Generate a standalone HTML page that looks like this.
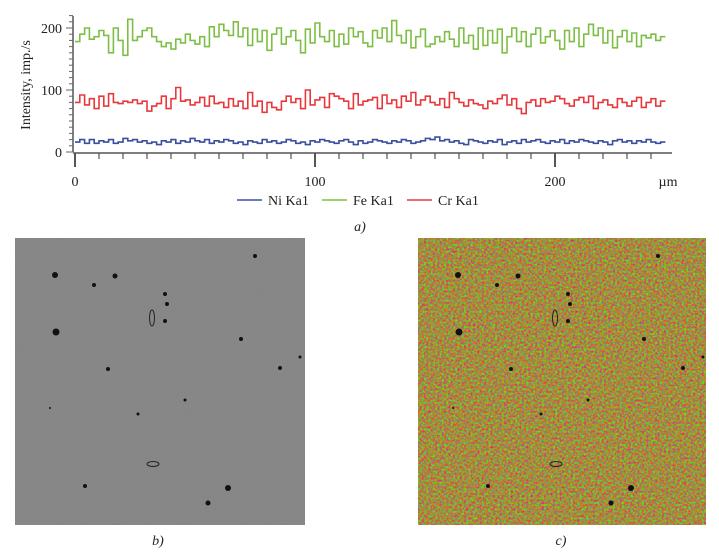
<!DOCTYPE html>
<html><head><meta charset="utf-8"><style>
body{margin:0;background:#fff;}
svg{display:block;font-family:"Liberation Serif",serif;}
</style></head><body>
<svg id="root" width="719" height="553" viewBox="0 0 719 553">
<defs>
<filter id="grayNoise" x="0" y="0" width="100%" height="100%" color-interpolation-filters="sRGB">
<feTurbulence type="fractalNoise" baseFrequency="0.9" numOctaves="2" seed="3" result="n"/>
<feColorMatrix in="n" type="matrix" values="0 0 0 0 0.5  0 0 0 0 0.5  0 0 0 0 0.5  0.9 0 0 0 -0.3" result="g"/>
<feComposite in="g" in2="SourceGraphic" operator="over"/>
</filter>
<filter id="colorNoise" x="0" y="0" width="100%" height="100%" color-interpolation-filters="sRGB">
<feTurbulence type="fractalNoise" baseFrequency="0.45" numOctaves="2" seed="7" result="n"/>
<feColorMatrix in="n" type="matrix" values="0.9 -0.9 0 0 0.64  -0.5 1.1 -0.5 0 0.5  -0.4 -0.4 0.9 0 0.2  0 0 0 0 0.9" result="c"/>
<feComposite in="c" in2="SourceGraphic" operator="over"/>
</filter>
</defs>
<g id="chart"></g>
<text x="30" y="85" font-size="14" transform="rotate(-90 30 85)" text-anchor="middle" fill="#222">Intensity, imp./s</text>
<text x="360" y="231" font-size="14" font-style="italic" text-anchor="middle" fill="#222">a)</text>
<g>
<rect x="15" y="238" width="290" height="287" fill="#888" filter="url(#grayNoise)"/>
<g fill="#111" id="dotsB"></g>
</g>
<text x="158" y="545" font-size="14" font-style="italic" text-anchor="middle" fill="#222">b)</text>
<g>
<rect x="418" y="238" width="288" height="287" fill="#a08a40" filter="url(#colorNoise)"/>
<g fill="#111" id="dotsC"></g>
</g>
<text x="561" y="545" font-size="14" font-style="italic" text-anchor="middle" fill="#222">c)</text>
</svg>
<script>
const positions = [];
const feValues = [178,190,200,182,186,196,188,160,200,180,156,214,180,186,196,200,186,178,170,176,166,182,176,190,180,174,186,170,202,186,206,196,188,210,186,200,172,198,178,196,164,190,200,174,186,196,180,160,198,176,208,186,178,196,170,190,174,200,186,194,176,170,196,184,200,178,212,188,176,196,168,186,198,170,174,186,178,194,182,170,200,176,188,166,200,172,196,176,198,160,186,200,178,194,170,190,200,176,186,196,180,166,196,178,200,170,190,206,188,200,176,196,168,186,196,178,192,170,188,184,190,180,186];
const crValues = [80,92,76,86,70,90,74,94,80,78,82,80,84,78,82,66,74,78,90,70,86,104,82,84,76,80,88,74,90,78,80,72,86,74,82,70,96,74,82,64,80,72,68,82,90,80,86,70,100,76,84,88,72,94,90,86,82,70,94,76,82,84,88,70,92,78,84,72,90,82,96,76,84,90,80,76,86,72,96,86,80,74,84,78,76,70,82,78,86,92,76,86,70,62,80,84,74,86,80,82,90,86,78,74,84,88,80,90,70,80,84,76,72,86,80,74,82,88,72,80,86,74,82];
const niValues = [16,20,14,20,14,18,16,20,14,16,22,18,20,16,18,14,16,12,18,16,20,14,18,16,22,18,16,20,14,18,16,20,18,14,16,12,18,16,14,20,16,18,14,16,20,18,14,16,12,18,16,20,18,16,14,18,20,16,12,18,14,16,20,18,16,14,18,16,20,18,14,16,18,22,20,24,18,20,16,18,14,12,20,18,16,14,18,16,20,12,16,18,14,20,16,18,20,16,14,18,16,20,14,18,16,20,18,16,14,18,16,12,18,20,16,18,14,18,16,20,16,14,16];
const xTicks = [0,100,200];
const xTickLabels = ["0","100","200"];
const yTicks = [0,100,200];
const yTickLabels = ["0","100","200"];
const seriesNames = ["Ni Ka1","Fe Ka1","Cr Ka1"];
for (let i = 0; i < feValues.length; i++) positions.push(i*2);

const X0=75, XS=2.4, Y0=152, YS=0.62;
const xs = v => X0 + v*XS;
const ys = v => Y0 - v*YS;
const NS='http://www.w3.org/2000/svg';
const chart=document.getElementById('chart');
function mk(tag, attrs, parent){const e=document.createElementNS(NS,tag);for(const k in attrs)e.setAttribute(k,attrs[k]);(parent||chart).appendChild(e);return e;}

let ax=mk('line',{x1:73,y1:16,x2:73,y2:152,stroke:'#555','stroke-width':1.5});


for(let v=0;v<=220;v+=10){
  const t=mk('line',{x1:v%100===0?66:69,y1:ys(v),x2:73,y2:ys(v),stroke:'#666','stroke-width':1});
  
  
}
yTicks.forEach((v,i)=>{const t=mk('text',{x:62,y:ys(v)+5,'font-size':14,'text-anchor':'end',fill:'#222'});t.textContent=yTickLabels[i];

});
let bx=mk('line',{x1:73,y1:153,x2:672,y2:153,stroke:'#555','stroke-width':1.5});


for(let v=0;v<=240;v+=10){
  const t=mk('line',{x1:xs(v),y1:153,x2:xs(v),y2:v%100===0?167:159,stroke:'#555','stroke-width':v%100===0?2:1.2});
  
  
}
xTicks.forEach((v,i)=>{const t=mk('text',{x:xs(v),y:186,'font-size':14,'text-anchor':'middle',fill:'#222'});t.textContent=xTickLabels[i];

});
let un=mk('text',{x:668,y:186,'font-size':14,'text-anchor':'middle',fill:'#222'});un.textContent='µm';



function step(vals,color,name){
  let d='';
  vals.forEach((v,i)=>{const x1=xs(positions[i]),x2=xs(positions[i]+2);d+=(i===0?'M':'L')+x1.toFixed(1)+','+ys(v).toFixed(1)+'L'+x2.toFixed(1)+','+ys(v).toFixed(1);});
  const p=mk('path',{d:d,fill:'none',stroke:color,'stroke-width':1.6});
  
  
}
step(feValues,'#7dbf45','fe-series');
step(crValues,'#e8383c','cr-series');
step(niValues,'#3a4fa0','ni-series');

const lg=[[237,seriesNames[0],'#3a4fa0'],[322,seriesNames[1],'#7dbf45'],[407,seriesNames[2],'#e8383c']];
lg.forEach(([x,n,c])=>{
  const g=mk('g',{});
  
  
  mk('line',{x1:x,y1:200,x2:x+25,y2:200,stroke:c,'stroke-width':1.5},g);
  const t=mk('text',{x:x+31,y:205,'font-size':14,fill:'#222'},g);t.textContent=n;
});

const dots=[[40,37,3],[100,38,2.5],[79,47,2],[41,94,3.5],[152,66,2],[150,83,2],[226,101,2],[93,131,2],[265,130,2],[70,248,2],[213,250,3],[193,265,2.5],[285,119,1.5],[150,56,2],[123,176,1.5],[240,18,2],[35,170,1],[170,162,1.5]];
[['dotsB',15,238],['dotsC',418,238]].forEach(([id,ox,oy])=>{
  const g=document.getElementById(id);
  dots.forEach(([x,y,r])=>{const c=mk('circle',{cx:ox+x,cy:oy+y,r:r},g);
    
    });
  const e=mk('ellipse',{cx:ox+137,cy:oy+80,rx:2.5,ry:8,fill:'none',stroke:'#222','stroke-width':1},g);
  
  
  const e2=mk('ellipse',{cx:ox+138,cy:oy+226,rx:6,ry:2.5,fill:'none',stroke:'#222','stroke-width':1},g);
  
  
});
</script>
</body></html>
